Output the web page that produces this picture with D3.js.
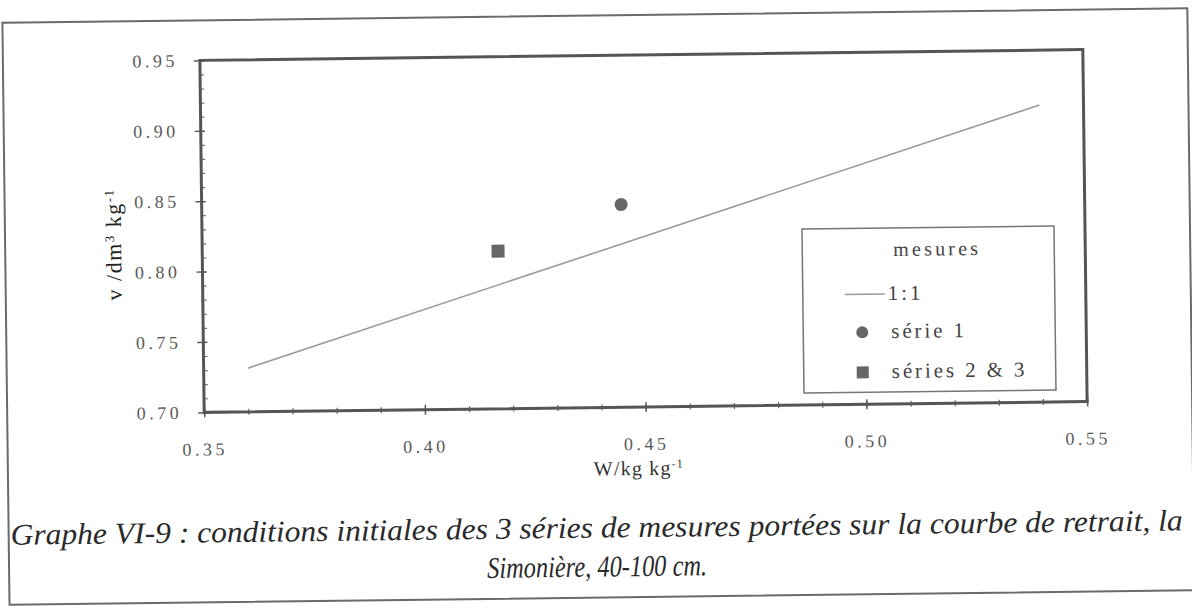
<!DOCTYPE html>
<html>
<head>
<meta charset="utf-8">
<script src="https://cdn.jsdelivr.net/npm/d3@7"></script>
<style>
  html, body { margin: 0; padding: 0; background: #fff; }
  svg { display: block; }
  svg text { font-family: "Liberation Serif", "Times New Roman", Tinos, "DejaVu Serif", serif !important; }
</style>
</head>
<body>
<svg id="chart" width="1192" height="609"></svg>
<script>
// Shrinkage curve, la Simonière 40-100 cm: initial state of the three measurement series
const xTicks = [0.35, 0.40, 0.45, 0.50, 0.55];
const yTicks = [0.70, 0.75, 0.80, 0.85, 0.90, 0.95];
const minorStep = 0.01;

// 1:1 reference line (W, v)
const lineW = [0.36, 0.54];
const lineV = [0.731, 0.911];

// measured initial conditions
const serie1W = [0.445];
const serie1V = [0.844];
const series23W = [0.417];
const series23V = [0.812];

const legendLabels = ["1:1", "série 1", "séries 2 & 3"];
const captionLines = [
  "Graphe VI-9 : conditions initiales des 3 séries de mesures portées sur la courbe de retrait, la",
  "Simonière, 40-100 cm."
];

const serif = "'Liberation Serif', 'Times New Roman', Tinos, 'DejaVu Serif', serif";

const svg = d3.select("#chart");
const page = svg.append("g").attr("transform", "rotate(-0.7 642 231)");

// outer frame around chart and caption
page.append("rect")
  .attr("x", 5).attr("y", 15).attr("width", 1185).attr("height", 582)
  .attr("fill", "none").attr("stroke", "#6a6a6a").attr("stroke-width", 2);

const plot = { left: 202, top: 55, width: 883, height: 352 };
const x = d3.scaleLinear().domain([xTicks[0], xTicks[xTicks.length - 1]]).range([0, plot.width]);
const y = d3.scaleLinear().domain([yTicks[0], yTicks[yTicks.length - 1]]).range([plot.height, 0]);
const fmt = d3.format(".2f");

const g = page.append("g").attr("transform", `translate(${plot.left},${plot.top})`);

const minorX = d3.range(Math.round((xTicks[xTicks.length - 1] - xTicks[0]) / minorStep) + 1).map(i => xTicks[0] + i * minorStep);
const minorY = d3.range(Math.round((yTicks[yTicks.length - 1] - yTicks[0]) / minorStep) + 1).map(i => yTicks[0] + i * minorStep);

// minor ticks (inside / crossing)
g.append("g").attr("transform", `translate(0,${plot.height})`)
  .call(d3.axisBottom(x).tickValues(minorX).tickSize(3).tickFormat(""))
  .call(a => a.select(".domain").remove())
  .call(a => a.selectAll("line").attr("y1", -3).attr("stroke", "#666").attr("stroke-width", 1.2));
g.append("g")
  .call(d3.axisLeft(y).tickValues(minorY).tickSize(-4).tickFormat(""))
  .call(a => a.select(".domain").remove())
  .call(a => a.selectAll("line").attr("stroke", "#777").attr("stroke-width", 1.2));

// major ticks and labels
const tickFont = a => a.attr("font-family", serif).selectAll("text")
  .style("font-family", serif)
  .attr("font-size", 18).attr("fill", "#5a5a5a").attr("letter-spacing", 3.5);

g.append("g").attr("transform", `translate(0,${plot.height})`)
  .call(d3.axisBottom(x).tickValues(xTicks).tickFormat(fmt).tickSize(5))
  .call(a => a.select(".domain").remove())
  .call(a => a.selectAll("line").attr("y1", -5).attr("stroke", "#555").attr("stroke-width", 1.4))
  .call(tickFont)
  .call(a => a.selectAll("text").attr("y", 43).attr("dy", null).attr("dx", 0));

g.append("g")
  .call(d3.axisLeft(y).tickValues(yTicks).tickFormat(fmt).tickSize(6).tickPadding(16))
  .call(a => a.select(".domain").remove())
  .call(a => a.selectAll("line").attr("x2", -6).attr("x1", 4).attr("stroke", "#555").attr("stroke-width", 1.4))
  .call(tickFont);

// 1:1 line
g.append("path")
  .datum(d3.zip(lineW, lineV))
  .attr("d", d3.line().x(d => x(d[0])).y(d => y(d[1])))
  .attr("fill", "none").attr("stroke", "#9a9a9a").attr("stroke-width", 1.6);

// measurement points
g.selectAll("circle.s1").data(d3.zip(serie1W, serie1V)).join("circle")
  .attr("class", "s1")
  .attr("cx", d => x(d[0])).attr("cy", d => y(d[1])).attr("r", 6.5)
  .attr("fill", "#666");
const sq = 13;
g.selectAll("rect.s23").data(d3.zip(series23W, series23V)).join("rect")
  .attr("class", "s23")
  .attr("x", d => x(d[0]) - sq / 2).attr("y", d => y(d[1]) - sq / 2)
  .attr("width", sq).attr("height", sq)
  .attr("fill", "#666");

// plot frame
g.append("rect")
  .attr("width", plot.width).attr("height", plot.height)
  .attr("fill", "none").attr("stroke", "#555").attr("stroke-width", 3);

// axis titles
const yTitle = page.append("text")
  .attr("transform", "translate(121,238) rotate(-90)")
  .attr("text-anchor", "middle")
  .style("font-family", serif)
  .attr("font-size", 22).attr("fill", "#222").attr("letter-spacing", 1.5);
yTitle.append("tspan").text("v /dm");
yTitle.append("tspan").attr("baseline-shift", "super").attr("font-size", 13).text("3");
yTitle.append("tspan").text(" kg");
yTitle.append("tspan").attr("baseline-shift", "super").attr("font-size", 13).text("-1");

const xTitle = page.append("text")
  .attr("x", 636).attr("y", 475)
  .attr("text-anchor", "middle")
  .style("font-family", serif)
  .attr("font-size", 20).attr("fill", "#333").attr("letter-spacing", 1.2);
xTitle.append("tspan").text("W/kg kg");
xTitle.append("tspan").attr("baseline-shift", "super").attr("font-size", 12).text("-1");

// legend
const lg = g.append("g").attr("transform", "translate(600,176)");
lg.append("rect").attr("width", 252).attr("height", 164)
  .attr("fill", "#fff").attr("stroke", "#777").attr("stroke-width", 1.5);
lg.append("text").attr("x", 135).attr("y", 28).attr("text-anchor", "middle")
  .style("font-family", serif)
  .attr("font-size", 20).attr("fill", "#444").attr("letter-spacing", 3.2).text("mesures");
const rowY = [66, 104, 144];
lg.append("line").attr("x1", 42).attr("x2", 82).attr("y1", rowY[0]).attr("y2", rowY[0])
  .attr("stroke", "#9a9a9a").attr("stroke-width", 1.6);
lg.append("circle").attr("cx", 59).attr("cy", rowY[1]).attr("r", 6).attr("fill", "#666");
lg.append("rect").attr("x", 53).attr("y", rowY[2] - 6).attr("width", 12).attr("height", 12).attr("fill", "#666");
lg.selectAll("text.item").data(legendLabels).join("text")
  .attr("class", "item")
  .attr("x", (d, i) => i === 0 ? 85 : 88)
  .attr("y", (d, i) => rowY[i] + 6)
  .style("font-family", serif)
  .attr("font-size", 21).attr("fill", "#444").attr("letter-spacing", 2.9)
  .text(d => d);

// caption (condensed italic)
page.selectAll("text.caption").data(captionLines).join("text")
  .attr("class", "caption")
  .attr("x", 593).attr("y", (d, i) => 537 + i * 39)
  .attr("text-anchor", "middle")
  .style("font-family", serif)
  .attr("font-size", 30).attr("font-style", "italic").attr("fill", "#2a2a2a")
  .attr("textLength", (d, i) => i === 0 ? 1172 : 220)
  .attr("lengthAdjust", "spacingAndGlyphs")
  .text(d => d);
</script>
</body>
</html>
